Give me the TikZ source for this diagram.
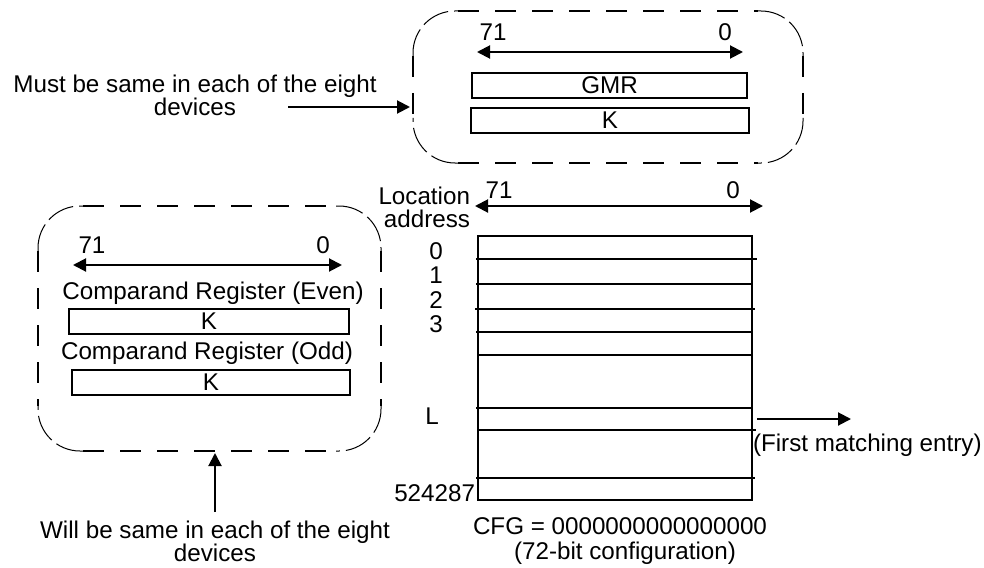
\documentclass[tikz,border=0pt]{standalone}
\usepackage{fontspec}
\setmainfont{Liberation Sans}
\usetikzlibrary{arrows.meta,fit}
\begin{document}
\begin{tikzpicture}[x=0.5pt,y=-0.5pt,
  every node/.style={inner sep=0pt, outer sep=0pt, font=\fontsize{12.1}{11.5}\selectfont, align=center},
  reg/.style={draw, line width=1pt, inner sep=0pt},
  grp/.style={draw=none, inner sep=0pt},
  arr/.style={line width=1pt, -{Triangle[length=6.5pt,width=6.5pt]}},
  biarr/.style={line width=1pt, {Triangle[length=6.5pt,width=6.5pt]}-{Triangle[length=6.5pt,width=6.5pt]}},
  dside/.style={line width=1.1pt, dash pattern=on 10.5pt off 8pt},
  darc/.style={line width=0.5pt, dash pattern=on 14pt off 3pt, rounded corners=21pt},
  row/.style={line width=1pt}
]
\useasboundingbox (0,0) rectangle (984,567);

% ---------- top group ----------
\node[grp, fit={(413,11) (803,163)}] (topgrp) {};
\draw[dside] (458,11) -- (758,11);
\draw[dside] (458,163) -- (758,163);
\draw[dside] (413,56) -- (413,118);
\draw[dside] (803,56) -- (803,118);
\draw[darc] (413,56) |- (458,11);
\draw[darc] (758,11) -| (803,56);
\draw[darc] (803,118) |- (758,163);
\draw[darc] (458,163) -| (413,118);

\node (t71) at (493,32) {71};
\node (t0) at (725,32) {0};
\coordinate (ta1) at (477,52);
\coordinate (ta2) at (743,52);
\draw[biarr] (ta1) -- (ta2);
\node[reg, fit={(472,73) (747,98)}, label=center:GMR] (gmr) {};
\node[reg, fit={(471,108) (749,133)}, label=center:K] (tk) {};

\node (must) at (195,95) {Must be same in each of the eight\\devices};
\coordinate (mustarr) at (288,107);
\draw[arr, shorten >=1.5pt] (mustarr) -- (mustarr -| topgrp.west);

% ---------- left group ----------
\node[grp, fit={(38,206) (381,451)}] (leftgrp) {};
\draw[dside] (83,206) -- (336,206);
\draw[dside] (83,451) -- (336,451);
\draw[dside] (38,251) -- (38,406);
\draw[dside] (381,251) -- (381,406);
\draw[darc] (38,251) |- (83,206);
\draw[darc] (336,206) -| (381,251);
\draw[darc] (381,406) |- (336,451);
\draw[darc] (83,451) -| (38,406);

\node (l71) at (92,245) {71};
\node (l0) at (323,245) {0};
\coordinate (la1) at (73,265);
\coordinate (la2) at (342,265);
\draw[biarr] (la1) -- (la2);
\node (even) at (213,293) {Comparand Register (Even)};
\node[reg, fit={(69,309) (349,334)}, label=center:K] (k1) {};
\node (odd) at (207,353) {Comparand Register (Odd)};
\node[reg, fit={(72,370) (350,395)}, label=center:K] (k2) {};

\node (will) at (215,541) {Will be same in each of the eight\\devices};
\coordinate (willarr) at (215,512);
\draw[arr, shorten >=1pt] (willarr) -- (willarr |- leftgrp.south);

% ---------- memory array ----------
\node[anchor=east, align=right] (loc) at (470,207) {Location\\address};
\node (m71) at (499,190) {71};
\node (m0) at (733,190) {0};
\coordinate (ma1) at (475,206);
\coordinate (ma2) at (763,206);
\draw[biarr] (ma1) -- (ma2);

\node[reg, fit={(478,236) (752,500)}] (mem) {};
\foreach \y/\a/\b in {259/476/757, 284/476/752, 309/475/755, 332/476/753, 355/478/753, 408/476/752, 430/478/756, 478/476/755}
  \draw[row] (\a,\y) -- (\b,\y);

\node (a0) at (436,251) {0};
\node (a1) at (436,275) {1};
\node (a2) at (436,300) {2};
\node (a3) at (436,324) {3};
\node (aL) at (432,416) {L};
\node[anchor=east] (aN) at (475,493) {524287};

\coordinate (Lstart) at (757,419);
\coordinate (Lend) at (851,419);
\draw[arr] (Lstart) -- (Lend);
\node[anchor=west] (first) at (753,445) {(First matching entry)};

\node (cfg) at (620,526) {CFG = 0000000000000000};
\node (cfg2) at (625,553) {(72-bit configuration)};
\end{tikzpicture}
\end{document}
